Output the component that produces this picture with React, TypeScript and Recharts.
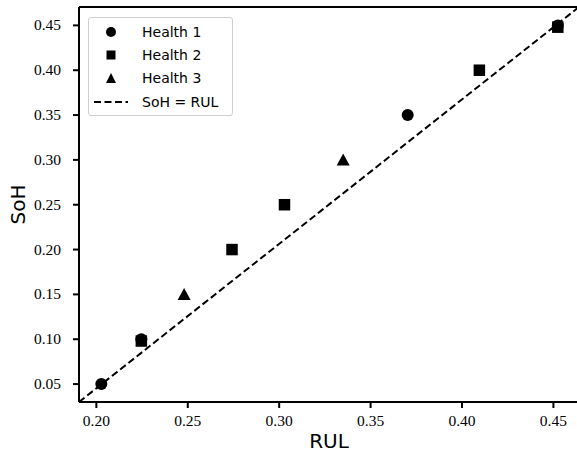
import React from 'react';
import { ScatterChart, Scatter, XAxis, YAxis, ReferenceLine, Label } from 'recharts';

// values
const health1X = [0.2027, 0.2246, 0.3703, 0.4524];
const health1Y = [0.05, 0.10, 0.35, 0.45];
const health2X = [0.2246, 0.2742, 0.3029, 0.4095, 0.4524];
const health2Y = [0.098, 0.20, 0.25, 0.40, 0.448];
const health3X = [0.248, 0.335];
const health3Y = [0.15, 0.30];

const xTicks = [0.20, 0.25, 0.30, 0.35, 0.40, 0.45];
const yTicks = [0.05, 0.10, 0.15, 0.20, 0.25, 0.30, 0.35, 0.40, 0.45];
const X_MIN = 0.1905;
const X_MAX = 0.464;
const Y_MIN = 0.030;
const Y_MAX = 0.4705;

const legendItems = ['Health 1', 'Health 2', 'Health 3', 'SoH = RUL'];

const toPoints = (xs: number[], ys: number[]) => xs.map((x, i) => ({ x, y: ys[i] }));

const Circle = (p: any) => <circle cx={p.cx} cy={p.cy} r={6} fill="#000" />;
const Square = (p: any) => <rect x={p.cx - 5.75} y={p.cy - 5.75} width={11.5} height={11.5} fill="#000" />;
const Triangle = (p: any) => (
  <polygon points={`${p.cx},${p.cy - 6.5} ${p.cx - 6.5},${p.cy + 5.5} ${p.cx + 6.5},${p.cy + 5.5}`} fill="#000" />
);

const legendIcon = (i: number) => {
  if (i === 0) return <circle cx={17} cy={6} r={5} fill="#000" />;
  if (i === 1) return <rect x={12.5} y={1.5} width={9} height={9} fill="#000" />;
  if (i === 2) return <polygon points="17,1 12,11 22,11" fill="#000" />;
  return <line x1={0} y1={6} x2={34} y2={6} stroke="#000" strokeWidth={2} strokeDasharray="7 3.5" />;
};

// legend drawn over the plot, top-left
const LegendBox = () => (
  <div
    style={{
      position: 'absolute',
      left: 88,
      top: 17,
      width: 145,
      height: 99,
      border: '1px solid #d0d0d0',
      borderRadius: 3,
      background: 'rgba(255,255,255,0.8)',
      boxSizing: 'border-box',
      paddingTop: 2,
      fontFamily: '"DejaVu Sans", sans-serif',
      fontSize: 14,
      color: '#000',
    }}
  >
    {legendItems.map((name, i) => (
      <div key={name} style={{ display: 'flex', alignItems: 'center', height: 23.3 }}>
        <svg width={34} height={12} style={{ marginLeft: 5, marginRight: 14 }}>
          {legendIcon(i)}
        </svg>
        <span>{name}</span>
      </div>
    ))}
  </div>
);

const serifStyle = { fontFamily: "'Liberation Serif', 'DejaVu Serif', serif", fontSize: 15.5 };

const XTick = (p: any) => (
  <text x={p.x} y={p.y + 13} textAnchor="middle" fill="#000" style={serifStyle}>
    {Number(p.payload.value).toFixed(2)}
  </text>
);

const YTick = (p: any) => (
  <text x={p.x - 6} y={p.y + 5} textAnchor="end" fill="#000" style={serifStyle}>
    {Number(p.payload.value).toFixed(2)}
  </text>
);

export default function App() {
  return (
    <div style={{ position: 'absolute', left: 0, top: 0, width: 577, height: 458, background: '#fff', overflow: 'hidden' }}>
      <ScatterChart width={579} height={458} margin={{ top: 7, right: 0, bottom: 0, left: 0 }}>
        <XAxis
          type="number"
          dataKey="x"
          domain={[X_MIN, X_MAX]}
          ticks={xTicks}
          allowDataOverflow
          height={56}
          tickSize={6}
          tickMargin={5}
          stroke="#000"
          strokeWidth={2}
          tick={<XTick />}
        >
          <Label value="RUL" position="insideBottom" offset={10} style={{ fontFamily: '"DejaVu Sans", sans-serif', fontSize: 20, fill: '#000' }} />
        </XAxis>
        <YAxis
          type="number"
          dataKey="y"
          domain={[Y_MIN, Y_MAX]}
          ticks={yTicks}
          allowDataOverflow
          width={79}
          tickSize={6}
          tickMargin={6}
          stroke="#000"
          strokeWidth={2}
          tick={<YTick />}
        >
          <Label value="SoH" angle={-90} position="insideLeft" offset={18} style={{ fontFamily: '"DejaVu Sans", sans-serif', fontSize: 20, fill: '#000', textAnchor: 'middle' }} />
        </YAxis>
        <ReferenceLine y={Y_MAX} stroke="#000" strokeWidth={2} />
        <ReferenceLine
          segment={[{ x: X_MIN, y: Y_MIN }, { x: X_MAX, y: Y_MAX }]}
          stroke="#000"
          strokeWidth={2}
          strokeDasharray="7 3.5"
        />
        <Scatter name="Health 1" data={toPoints(health1X, health1Y)} shape={Circle} isAnimationActive={false} />
        <Scatter name="Health 2" data={toPoints(health2X, health2Y)} shape={Square} isAnimationActive={false} />
        <Scatter name="Health 3" data={toPoints(health3X, health3Y)} shape={Triangle} isAnimationActive={false} />
      </ScatterChart>
      <LegendBox />
    </div>
  );
}
